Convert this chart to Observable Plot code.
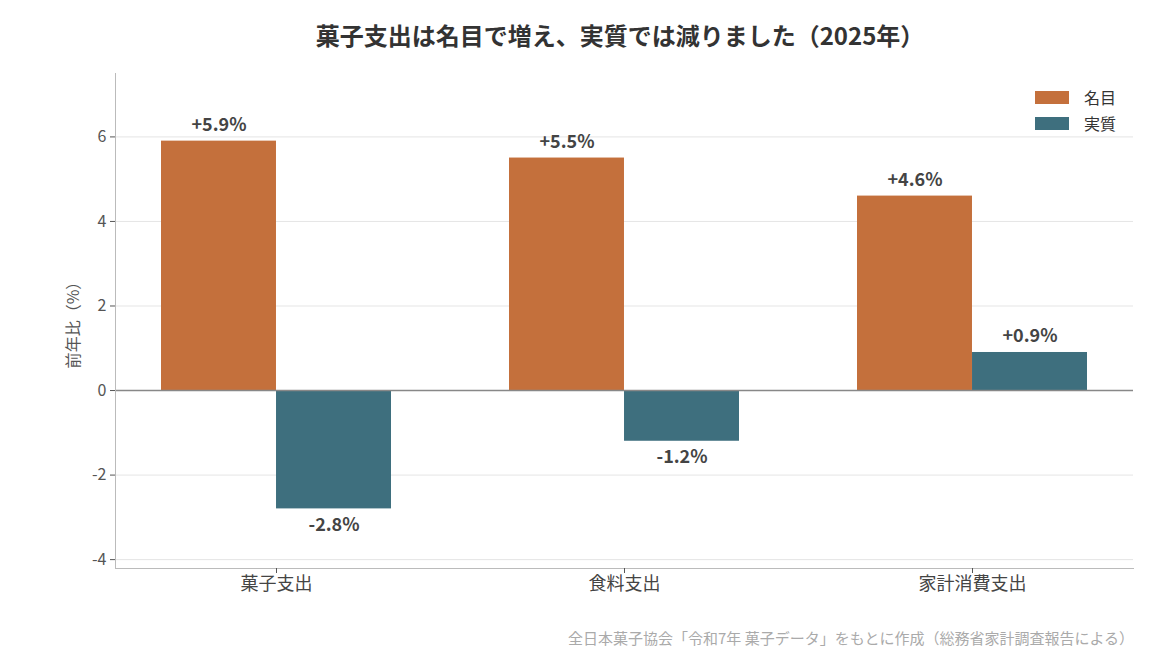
<!DOCTYPE html>
<html>
<head>
<meta charset="utf-8">
<script src="https://cdn.jsdelivr.net/npm/d3@7"></script>
<script src="https://cdn.jsdelivr.net/npm/@observablehq/plot@0.6"></script>
<style>
  html, body { margin: 0; padding: 0; background: #fff; }
  #wrap { position: relative; width: 1150px; height: 660px; overflow: hidden; font-family: "Noto Sans CJK JP", "Noto Sans", sans-serif; }
  #title { position: absolute; left: 0; top: 16px; width: 1240px; text-align: center; font-size: 24px; font-weight: bold; color: #333; line-height: 38px; }
  #chart { position: absolute; left: 0; top: 60px; }
  #legend { position: absolute; left: 1035px; top: 84px; font-size: 16px; color: #333; }
  .row { display: flex; align-items: center; height: 26px; }
  .sw { width: 34px; height: 13px; margin-right: 15px; }
  #caption { position: absolute; right: 16px; top: 627px; font-size: 15px; color: #aaa; line-height: 22px; }
</style>
</head>
<body>
<div id="wrap">
  <div id="title">菓子支出は名目で増え、実質では減りました（2025年）</div>
  <div id="chart"></div>
  <div id="legend"></div>
  <div id="caption">全日本菓子協会「令和7年 菓子データ」をもとに作成（総務省家計調査報告による）</div>
</div>
<script>
const categories = ["菓子支出", "食料支出", "家計消費支出"];
const series = ["名目", "実質"];
const nominal = [5.9, 5.5, 4.6];
const real = [-2.8, -1.2, 0.9];
const yTicks = [-4, -2, 0, 2, 4, 6];
const colors = ["#C4703C", "#3E6F7E"];
const yLabel = "前年比（%）";

const rows = categories.flatMap((c, i) => [
  {category: c, series: series[0], value: nominal[i]},
  {category: c, series: series[1], value: real[i]}
]);

const W = 1150, H = 548, mL = 115, mR = 17, mT = 13, mB = 40;
const pInner = 0.339, pOuter = 0.132;
const step = (W - mL - mR) / (categories.length - pInner + 2 * pOuter);
const half = step * (1 - pInner) / 2;
const fmt = d => (d > 0 ? "+" : "") + d.toFixed(1) + "%";
const font = '"Noto Sans CJK JP", "Noto Sans", sans-serif';

const isNom = d => d.series === series[0];
const isReal = d => d.series === series[1];
const labelOpts = {x: "category", y: "value", text: d => fmt(d.value), fontSize: 18, fontWeight: "bold", fill: "#444"};

const chart = Plot.plot({
  width: W, height: H,
  marginLeft: mL, marginRight: mR, marginTop: mT, marginBottom: mB,
  style: {fontFamily: font, fontSize: "16px", color: "#555", background: "white"},
  x: {domain: categories, paddingInner: pInner, paddingOuter: pOuter, label: null},
  y: {domain: [-4.21, 7.5], label: null},
  color: {domain: series, range: colors},
  marks: [
    Plot.ruleY(yTicks, {stroke: "#e5e5e5", strokeWidth: 1}),
    Plot.barY(rows, {filter: isNom, x: "category", y: "value", fill: "series", insetLeft: 0, insetRight: half}),
    Plot.barY(rows, {filter: isReal, x: "category", y: "value", fill: "series", insetLeft: half, insetRight: 0}),
    Plot.ruleY([0], {stroke: "#888", strokeWidth: 1.6}),
    Plot.frame({anchor: "left", stroke: "#bbb"}),
    Plot.frame({anchor: "bottom", stroke: "#bbb"}),
    Plot.axisY({ticks: yTicks, tickFormat: d => String(d), tickSize: 5, tickPadding: 4, fontSize: 16, fill: "#555", stroke: "#555", label: null}),
    Plot.axisX({tickSize: 5, tickPadding: 4, fontSize: 18, fill: "#444", stroke: "#555", label: null}),
    Plot.text([yLabel], {frameAnchor: "left", rotate: -90, textAnchor: "middle", dx: -42, fontSize: 16, fill: "#555"}),
    Plot.text(rows.filter(d => isNom(d) && d.value >= 0), {...labelOpts, dx: -half / 2, lineAnchor: "bottom", dy: -10}),
    Plot.text(rows.filter(d => isReal(d) && d.value >= 0), {...labelOpts, dx: half / 2, lineAnchor: "bottom", dy: -10}),
    Plot.text(rows.filter(d => isNom(d) && d.value < 0), {...labelOpts, dx: -half / 2, lineAnchor: "top", dy: 9}),
    Plot.text(rows.filter(d => isReal(d) && d.value < 0), {...labelOpts, dx: half / 2, lineAnchor: "top", dy: 9}),
  ]
});
document.getElementById("chart").appendChild(chart);

const legend = document.getElementById("legend");
series.forEach((s, i) => {
  const row = document.createElement("div");
  row.className = "row";
  const sw = document.createElement("div");
  sw.className = "sw";
  sw.style.background = colors[i];
  const t = document.createElement("span");
  t.textContent = s;
  row.appendChild(sw);
  row.appendChild(t);
  legend.appendChild(row);
});
</script>
</body>
</html>
